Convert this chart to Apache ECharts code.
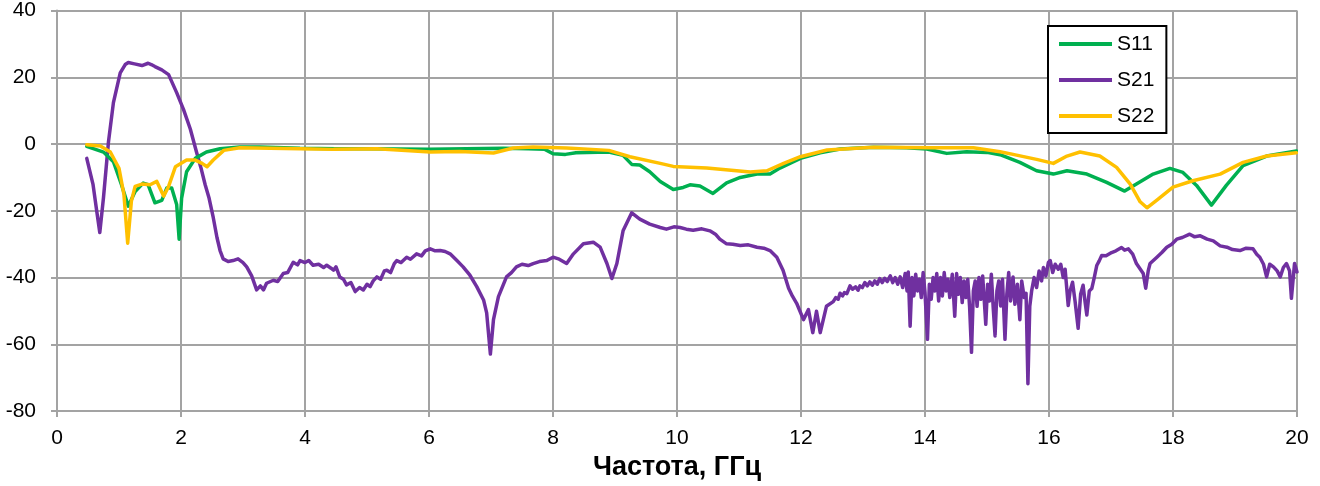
<!DOCTYPE html>
<html>
<head>
<meta charset="utf-8">
<script src="https://cdn.jsdelivr.net/npm/echarts@6/dist/echarts.min.js"></script>
<style>
html,body{margin:0;padding:0;background:#fff;}
#chart{width:1320px;height:486px;}
</style>
</head>
<body>
<div id="chart"></div>
<script>
// ---- data ----
const xTicks = [0, 2, 4, 6, 8, 10, 12, 14, 16, 18, 20];
const yTicks = [-80, -60, -40, -20, 0, 20, 40];
const seriesNames = ['S11', 'S21', 'S22'];
const xAxisTitle = 'Частота, ГГц';

const s11Freq = [0.48,0.75,0.91,1.04,1.15,1.26,1.39,1.47,1.58,1.69,1.77,1.85,1.93,1.97,2.01,2.09,2.23,2.41,2.63,2.95,3.27,3.92,4.5,5.0,5.5,6.0,6.6,7.2,7.6,7.87,8.0,8.2,8.37,8.9,9.13,9.27,9.4,9.56,9.73,9.94,10.1,10.21,10.37,10.58,10.8,11.02,11.29,11.5,11.66,11.99,12.31,12.63,13.17,13.7,14.03,14.35,14.67,15.0,15.21,15.53,15.8,16.07,16.29,16.61,16.93,17.22,17.41,17.68,17.95,18.16,18.38,18.62,18.86,19.13,19.51,19.99];
const s11Vals = [-0.7,-2.4,-5.3,-12.2,-18.6,-14.2,-11.7,-12.2,-17.6,-16.9,-13.2,-13.2,-18.1,-28.5,-16.2,-8.3,-4.3,-2.4,-1.4,-0.9,-0.9,-1.3,-1.4,-1.4,-1.5,-1.6,-1.4,-1.3,-1.4,-1.6,-2.9,-3.1,-2.6,-2.4,-3.4,-6.1,-6.3,-8.3,-11.2,-13.6,-13.0,-12.2,-12.6,-14.8,-11.6,-10.0,-9.0,-9.0,-7.2,-4.3,-2.6,-1.5,-1.0,-1.1,-1.5,-2.8,-2.3,-2.5,-3.2,-5.5,-8.0,-9.0,-8.0,-9.0,-11.5,-14.1,-12.0,-9.0,-7.3,-8.5,-12.4,-18.3,-12.4,-6.5,-3.6,-2.1];

const s21Freq = [0.48,0.58,0.64,0.69,0.75,0.83,0.91,1.02,1.1,1.15,1.25,1.37,1.47,1.52,1.58,1.69,1.8,1.93,2.04,2.15,2.25,2.32,2.39,2.45,2.52,2.58,2.63,2.68,2.76,2.84,2.92,3.0,3.06,3.14,3.22,3.28,3.33,3.38,3.49,3.56,3.65,3.72,3.81,3.88,3.92,4.0,4.06,4.13,4.22,4.3,4.35,4.42,4.46,4.5,4.56,4.62,4.67,4.74,4.81,4.88,4.94,5.0,5.05,5.1,5.16,5.22,5.28,5.32,5.38,5.44,5.48,5.55,5.64,5.7,5.8,5.88,5.94,6.02,6.1,6.18,6.26,6.34,6.45,6.55,6.66,6.77,6.88,6.93,6.99,7.04,7.12,7.25,7.33,7.41,7.5,7.6,7.68,7.78,7.9,8.0,8.1,8.22,8.33,8.49,8.65,8.76,8.87,8.95,9.03,9.13,9.27,9.4,9.56,9.73,9.83,9.95,10.05,10.15,10.26,10.4,10.53,10.62,10.69,10.8,10.9,11.02,11.15,11.29,11.4,11.5,11.61,11.71,11.8,11.86,11.93,12.04,12.12,12.19,12.25,12.31,12.41,12.52,12.56,12.6,12.63,12.67,12.7,12.74,12.79,12.83,12.88,12.92,12.95,12.99,13.03,13.07,13.11,13.15,13.19,13.23,13.27,13.31,13.35,13.39,13.44,13.48,13.52,13.56,13.6,13.64,13.68,13.71,13.73,13.76,13.79,13.82,13.85,13.88,13.91,13.94,13.97,14.0,14.04,14.07,14.1,14.13,14.16,14.19,14.22,14.25,14.28,14.31,14.34,14.37,14.4,14.44,14.48,14.51,14.54,14.57,14.6,14.63,14.66,14.69,14.72,14.75,14.78,14.81,14.84,14.87,14.9,14.93,14.96,14.98,15.01,15.04,15.07,15.1,15.13,15.16,15.19,15.22,15.25,15.29,15.32,15.35,15.38,15.42,15.45,15.49,15.53,15.56,15.6,15.63,15.66,15.69,15.72,15.76,15.8,15.84,15.88,15.91,15.95,15.99,16.02,16.06,16.1,16.15,16.19,16.23,16.26,16.31,16.34,16.38,16.42,16.47,16.51,16.55,16.58,16.61,16.65,16.69,16.73,16.77,16.81,16.85,16.92,17.01,17.08,17.17,17.22,17.28,17.35,17.41,17.52,17.56,17.6,17.63,17.74,17.82,17.9,17.98,18.06,18.15,18.27,18.35,18.44,18.55,18.65,18.76,18.87,18.96,19.08,19.18,19.29,19.35,19.4,19.46,19.51,19.56,19.62,19.68,19.73,19.78,19.83,19.88,19.91,19.96,20.0];
const s21Vals = [-4.3,-12,-20,-26.5,-16,0.6,12.4,21.3,23.8,24.4,24.0,23.5,24.2,23.8,23.2,22.2,20.8,15.4,10.4,4.5,-2.4,-7,-12.2,-16,-22,-28,-31.9,-34.4,-35.2,-34.9,-34.4,-35.5,-36.8,-39.5,-43.7,-42.5,-43.7,-41.7,-40.8,-41.2,-38.8,-38.5,-35.4,-36.2,-34.9,-35.5,-34.9,-36.3,-36.0,-37.0,-36.3,-37.2,-37.8,-36.8,-39.8,-40.5,-42.2,-41.5,-44.2,-43.0,-43.7,-42.0,-42.7,-41.0,-39.8,-40.5,-38.0,-37.8,-38.5,-35.8,-34.9,-35.5,-33.9,-34.5,-32.9,-33.5,-32.0,-31.4,-32.0,-31.9,-32.2,-32.9,-34.9,-36.8,-39.3,-42.7,-46.7,-50.6,-62.9,-52.6,-45.7,-39.8,-38.5,-36.8,-36.0,-36.4,-35.8,-35.2,-34.9,-33.9,-34.5,-35.8,-32.9,-29.9,-29.4,-30.9,-35.8,-40.3,-35.8,-26.0,-20.6,-22.5,-24.0,-25.0,-25.5,-24.8,-25.0,-25.5,-25.8,-25.4,-26.0,-27.0,-28.5,-29.9,-30.0,-30.4,-30.2,-30.9,-31.2,-31.9,-33.9,-37.8,-43.2,-45.5,-47.7,-52.6,-49.6,-56.5,-50.1,-56.5,-48.6,-47.2,-46.0,-46.5,-44.7,-45.5,-44.5,-44.8,-42.5,-43.5,-42.8,-43.8,-42.5,-43.0,-41.5,-42.5,-41.3,-42.3,-41.0,-42.0,-40.3,-41.5,-40.2,-41.2,-39.5,-41.5,-40.0,-42.0,-39.8,-43.0,-38.8,-44.0,-38.3,-54.6,-40.0,-45.5,-39.0,-44.0,-40.5,-46.0,-38.5,-44.5,-58.5,-42.0,-46.5,-40.0,-44.0,-38.8,-47.0,-40.0,-45.5,-38.5,-44.0,-40.5,-46.0,-39.0,-51.6,-38.8,-45.0,-40.0,-47.5,-41.0,-46.0,-40.5,-49.0,-62.4,-44.0,-41.0,-48.6,-40.0,-46.5,-39.5,-48.0,-54.0,-42.0,-47.0,-39.0,-49.0,-57.5,-44.0,-41.0,-48.5,-40.5,-58.5,-45.0,-38.5,-47.0,-39.8,-48.0,-42.0,-52.6,-41.0,-46.0,-44.7,-71.8,-48.6,-44.0,-40.0,-43.0,-38.0,-41.0,-37.0,-39.5,-35.5,-34.9,-38.5,-36.0,-37.5,-36.0,-40.0,-37.5,-48.4,-44.0,-41.4,-47.0,-55.2,-45.0,-42.3,-47.0,-51.2,-44.0,-43.3,-40.0,-36.4,-35.0,-33.4,-33.5,-32.5,-32.0,-31.0,-31.8,-31.4,-33,-35.8,-38.8,-43.2,-38,-35.8,-33.9,-32.5,-30.9,-30,-28.5,-28,-27.0,-27.8,-27.5,-28.5,-29.0,-30.5,-30.9,-31.6,-31.9,-31.2,-31.4,-33,-33.9,-36,-39.8,-36,-36.8,-38,-39.8,-37,-35.8,-38,-46.2,-35.8,-38.3];

const s22Freq = [0.48,0.7,0.86,1.0,1.08,1.14,1.2,1.26,1.37,1.5,1.61,1.72,1.8,1.91,2.09,2.23,2.34,2.42,2.52,2.69,2.95,3.92,4.46,5.16,6.02,6.5,7.04,7.36,7.68,8.22,8.9,9.24,9.73,9.94,10.48,11.18,11.45,11.72,11.99,12.42,13.17,14.13,14.78,15.21,15.42,15.8,16.07,16.29,16.5,16.82,17.09,17.31,17.47,17.58,17.74,18.0,18.32,18.76,19.13,19.51,19.99];
const s22Vals = [-0.2,-0.6,-2.4,-7.3,-15.2,-29.7,-17.1,-12.7,-12.0,-12.2,-11.2,-15.6,-12.7,-6.8,-4.8,-4.8,-5.8,-6.8,-4.8,-1.9,-1.1,-1.4,-1.6,-1.4,-2.4,-2.2,-2.7,-1.2,-0.9,-1.2,-1.9,-3.8,-5.8,-6.7,-7.2,-8.4,-8.0,-5.8,-3.8,-1.8,-1.0,-1.1,-1.1,-2.3,-3.1,-4.6,-5.8,-3.6,-2.4,-3.6,-7.0,-12.0,-17.3,-19.1,-16.8,-12.9,-11.0,-9.0,-5.5,-3.6,-2.6];

// ---- build ----
const zip = (xs, ys) => xs.map((x, i) => [x, ys[i]]);
const FONT = "'Liberation Sans Narrow', 'Arial Narrow', 'Liberation Sans', Arial, sans-serif";
const colors = ['#00B050', '#7030A0', '#FFC000'];
const gridColor = '#a3a3a3';

const chart = echarts.init(document.getElementById('chart'), null, {renderer: 'canvas'});
const mkSeries = (name, data, color, z) => ({
  name, type: 'line', data, showSymbol: false, symbol: 'none', smooth: false,
  lineStyle: {color, width: 3.5, join: 'round', cap: 'round'}, itemStyle: {color}, z, animation: false
});

chart.setOption({
  animation: false,
  backgroundColor: '#fff',
  grid: {left: 57, right: 23, top: 6, bottom: 73, containLabel: false},
  legend: {
    orient: 'vertical', left: 1048, top: 26,
    data: seriesNames,
    icon: 'rect', itemWidth: 53, itemHeight: 4, itemGap: 14,
    padding: [7, 12, 6, 11],
    borderColor: '#000', borderWidth: 2, backgroundColor: '#fff',
    textStyle: {fontFamily: FONT, fontSize: 21, color: '#000', lineHeight: 22}
  },
  xAxis: {
    type: 'value', min: xTicks[0], max: xTicks[xTicks.length - 1], interval: 2,
    name: xAxisTitle, nameLocation: 'middle', nameGap: 40,
    nameTextStyle: {fontFamily: FONT, fontSize: 27, fontWeight: 'bold', color: '#000'},
    axisLine: {show: true, onZero: false, lineStyle: {color: gridColor, width: 2}},
    axisTick: {show: true, length: 6, lineStyle: {color: gridColor, width: 2}},
    axisLabel: {fontFamily: FONT, fontSize: 21, color: '#000', margin: 17},
    splitLine: {show: true, lineStyle: {color: gridColor, width: 2}}
  },
  yAxis: {
    type: 'value', min: yTicks[0], max: yTicks[yTicks.length - 1], interval: 20,
    axisLine: {show: true, onZero: false, lineStyle: {color: gridColor, width: 2}},
    axisTick: {show: true, length: 6, lineStyle: {color: gridColor, width: 2}},
    axisLabel: {fontFamily: FONT, fontSize: 21, color: '#000', margin: 21},
    splitLine: {show: true, lineStyle: {color: gridColor, width: 2}}
  },
  series: [
    mkSeries(seriesNames[0], zip(s11Freq, s11Vals), colors[0], 3),
    mkSeries(seriesNames[1], zip(s21Freq, s21Vals), colors[1], 2),
    mkSeries(seriesNames[2], zip(s22Freq, s22Vals), colors[2], 4)
  ]
});
</script>
</body>
</html>
